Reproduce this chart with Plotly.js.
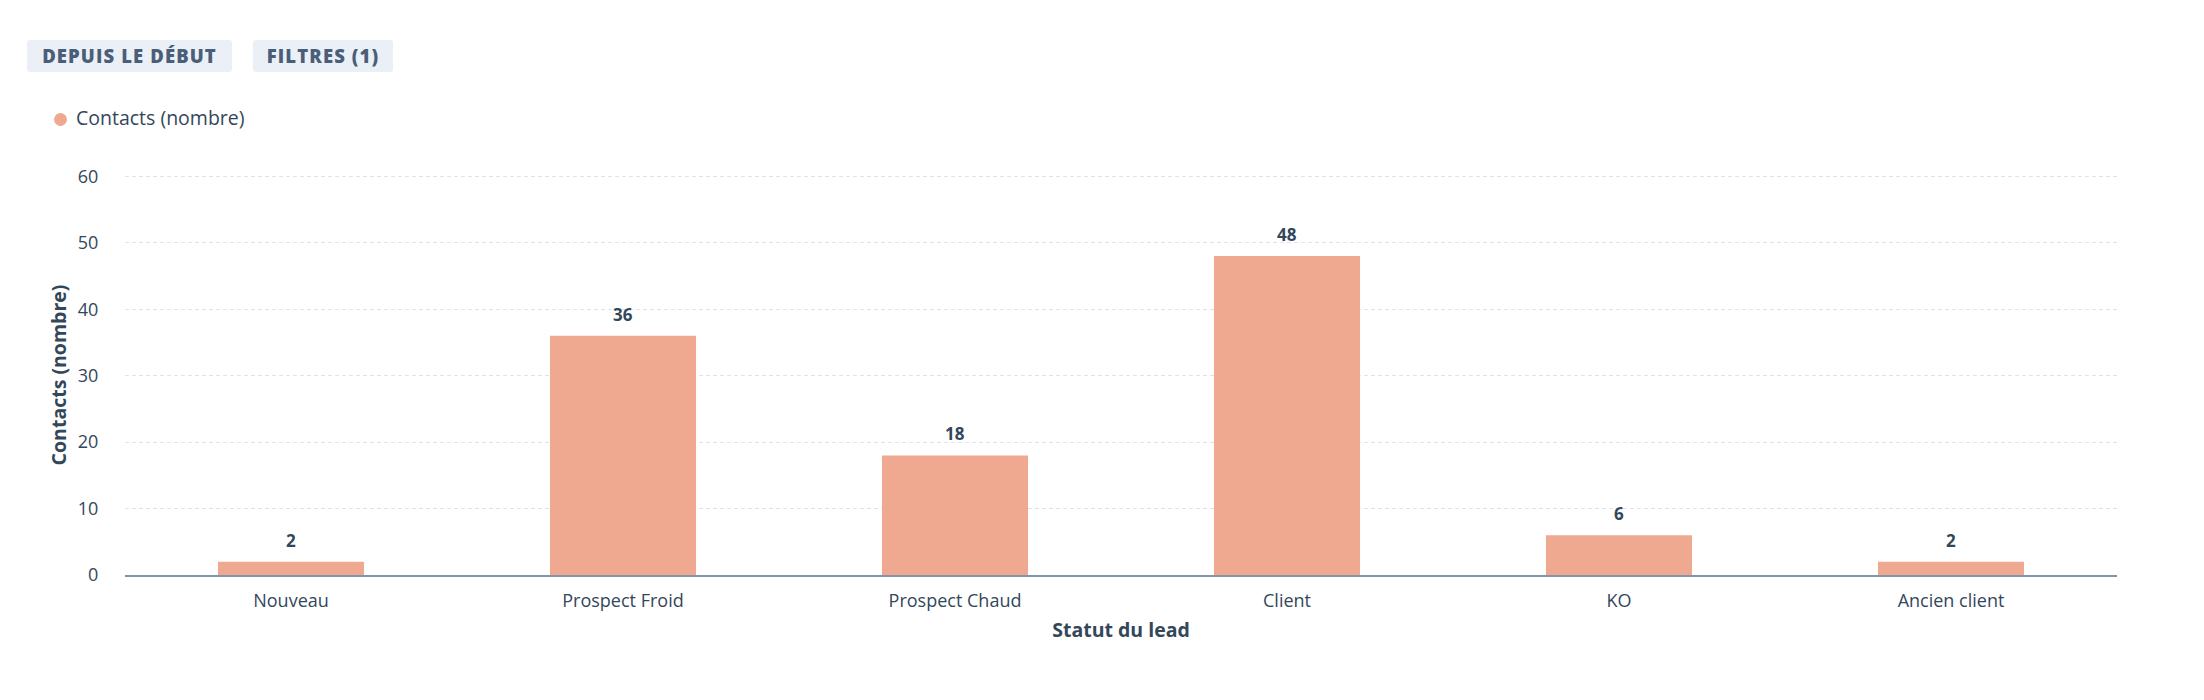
<!DOCTYPE html>
<html>
<head>
<meta charset="utf-8">
<script src="https://cdn.plot.ly/plotly-3.0.1.min.js"></script>
<style>
  html, body { margin: 0; padding: 0; background: #ffffff; }
  body { width: 2204px; height: 700px; position: relative; overflow: hidden; font-family: "Open Sans", Lato, sans-serif; }
  #chart { position: absolute; left: 0; top: 0; width: 2204px; height: 700px; }
  .btn { position: absolute; top: 40px; height: 32px; line-height: 32px; background: #eaf0f6; color: #4a5e7a;
         font-weight: 800; font-size: 18.5px; letter-spacing: 1.1px; border-radius: 3px; text-align: center; }
  .legend { position: absolute; left: 54px; top: 105px; font-size: 19.5px; color: #33475b; line-height: 26px; }
  .legend .dot { display: inline-block; width: 13px; height: 13px; border-radius: 50%; background: #eea990; margin-right: 9px; vertical-align: -1px; }
</style>
</head>
<body>
<div id="chart"></div>
<div class="btn" style="left:27px;width:205px;">DEPUIS LE DÉBUT</div>
<div class="btn" style="left:253px;width:140px;">FILTRES (1)</div>
<div class="legend"><span class="dot"></span>Contacts (nombre)</div>
<script>
const categories = ["Nouveau", "Prospect Froid", "Prospect Chaud", "Client", "KO", "Ancien client"];
const contacts = [2, 36, 18, 48, 6, 2];
const yTicks = [0, 10, 20, 30, 40, 50, 60];
const seriesName = "Contacts (nombre)";
const xTitle = "Statut du lead";
const yTitle = "Contacts (nombre)";

const barColor = "#eea990";
const textColor = "#33475b";
const fontFamily = "'Open Sans', Lato, sans-serif";

const trace = {
  type: "bar",
  x: categories,
  y: contacts,
  name: seriesName,
  marker: { color: barColor },
  hoverinfo: "x+y"
};

const annotations = categories.map((c, i) => ({
  x: c, y: contacts[i], xref: "x", yref: "y",
  text: "<b>" + contacts[i] + "</b>",
  showarrow: false, yanchor: "bottom", yshift: 8,
  font: { family: fontFamily, size: 17, color: textColor }
}));

const layout = {
  width: 2204, height: 700,
  margin: { l: 125, r: 87, t: 175, b: 125 },
  paper_bgcolor: "#ffffff",
  plot_bgcolor: "#ffffff",
  showlegend: false,
  bargap: 0.56,
  font: { family: fontFamily, color: textColor, size: 17 },
  xaxis: {
    type: "category",
    showgrid: false,
    showline: true, linecolor: "#8196ad", linewidth: 1.5,
    ticks: "outside", ticklen: 9, tickcolor: "rgba(0,0,0,0)",
    tickfont: { family: fontFamily, size: 18, color: textColor },
    title: { text: xTitle, standoff: 12, font: { family: fontFamily, size: 19.5, color: textColor, weight: "bold" } },
    automargin: false
  },
  yaxis: {
    range: [0, 60.2],
    tickvals: yTicks,
    showgrid: true, gridcolor: "#dfe3eb", griddash: "4px,3px", gridwidth: 1,
    zeroline: false,
    showline: false,
    ticks: "outside", ticklen: 22, tickcolor: "rgba(0,0,0,0)",
    tickfont: { family: fontFamily, size: 18, color: textColor },
    title: { text: yTitle, standoff: 5, font: { family: fontFamily, size: 19.5, color: textColor, weight: "bold" } },
    automargin: false
  },
  annotations: annotations
};

Plotly.newPlot("chart", [trace], layout, { displayModeBar: false, staticPlot: true });
</script>
</body>
</html>
